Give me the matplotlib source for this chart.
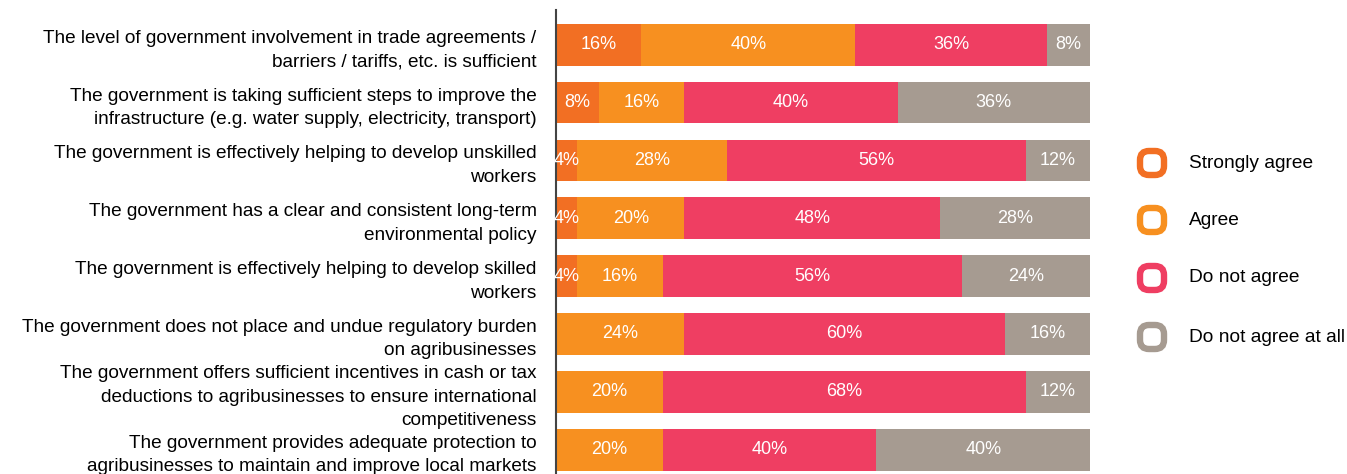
import numpy as np
import matplotlib.pyplot as plt
from matplotlib.patches import FancyBboxPatch

plt.rcParams['font.family'] = ['Liberation Sans', 'DejaVu Sans']

# Data
statements = [
    "The level of government involvement in trade agreements /\nbarriers / tariffs, etc. is sufficient",
    "The government is taking sufficient steps to improve the\ninfrastructure (e.g. water supply, electricity, transport)",
    "The government is effectively helping to develop unskilled\nworkers",
    "The government has a clear and consistent long-term\nenvironmental policy",
    "The government is effectively helping to develop skilled\nworkers",
    "The government does not place and undue regulatory burden\non agribusinesses",
    "The government offers sufficient incentives in cash or tax\ndeductions to agribusinesses to ensure international\ncompetitiveness",
    "The government provides adequate protection to\nagribusinesses to maintain and improve local markets",
]
strongly_agree = [16, 8, 4, 4, 4, 0, 0, 0]
agree = [40, 16, 28, 20, 16, 24, 20, 20]
do_not_agree = [36, 40, 56, 48, 56, 60, 68, 40]
not_at_all = [8, 36, 12, 28, 24, 16, 12, 40]

series = [strongly_agree, agree, do_not_agree, not_at_all]
names = ["Strongly agree", "Agree", "Do not agree", "Do not agree at all"]
colors = ["#F26F23", "#F79020", "#EF3E62", "#A69B91"]

W, H = 1347, 474
fig = plt.figure(figsize=(W / 100, H / 100), dpi=100)
ax = fig.add_axes([0.4128, 0.0, 0.3964, 0.979])

y = np.arange(len(statements))
left = np.zeros(len(statements))
for vals, c in zip(series, colors):
    vals = np.array(vals, dtype=float)
    ax.barh(y, vals, left=left, height=0.72, color=c, edgecolor='none')
    for yi, v, l in zip(y, vals, left):
        if v > 0:
            ax.text(l + v / 2, yi, f"{int(v)}%", ha='center', va='center',
                    color='white', fontsize=13)
    left += vals

ax.set_xlim(0, 100)
ax.set_ylim(7.42, -0.6)
ax.set_xticks([])
ax.set_yticks(y)
ax.set_yticklabels(statements, fontsize=13.7, linespacing=1.5)
ax.tick_params(axis='y', length=0, pad=14)
for s in ['top', 'right', 'bottom']:
    ax.spines[s].set_visible(False)
ax.spines['left'].set_color('#444444')
ax.spines['left'].set_linewidth(1.5)

# legend with rounded hollow squares, drawn in pixel coordinates
lax = fig.add_axes([0, 0, 1, 1], zorder=-1)
lax.set_xlim(0, W)
lax.set_ylim(H, 0)
lax.axis('off')
leg_y = [163, 220, 278, 337]
for name, c, yy in zip(names, colors, leg_y):
    box = FancyBboxPatch((1140, yy - 12), 24, 24,
                         boxstyle="round,pad=0,rounding_size=9",
                         facecolor='white', edgecolor=c, linewidth=4.6)
    lax.add_patch(box)
    lax.text(1189, yy, name, ha='left', va='center', fontsize=13.8)

fig.savefig("out.png", dpi=100)
